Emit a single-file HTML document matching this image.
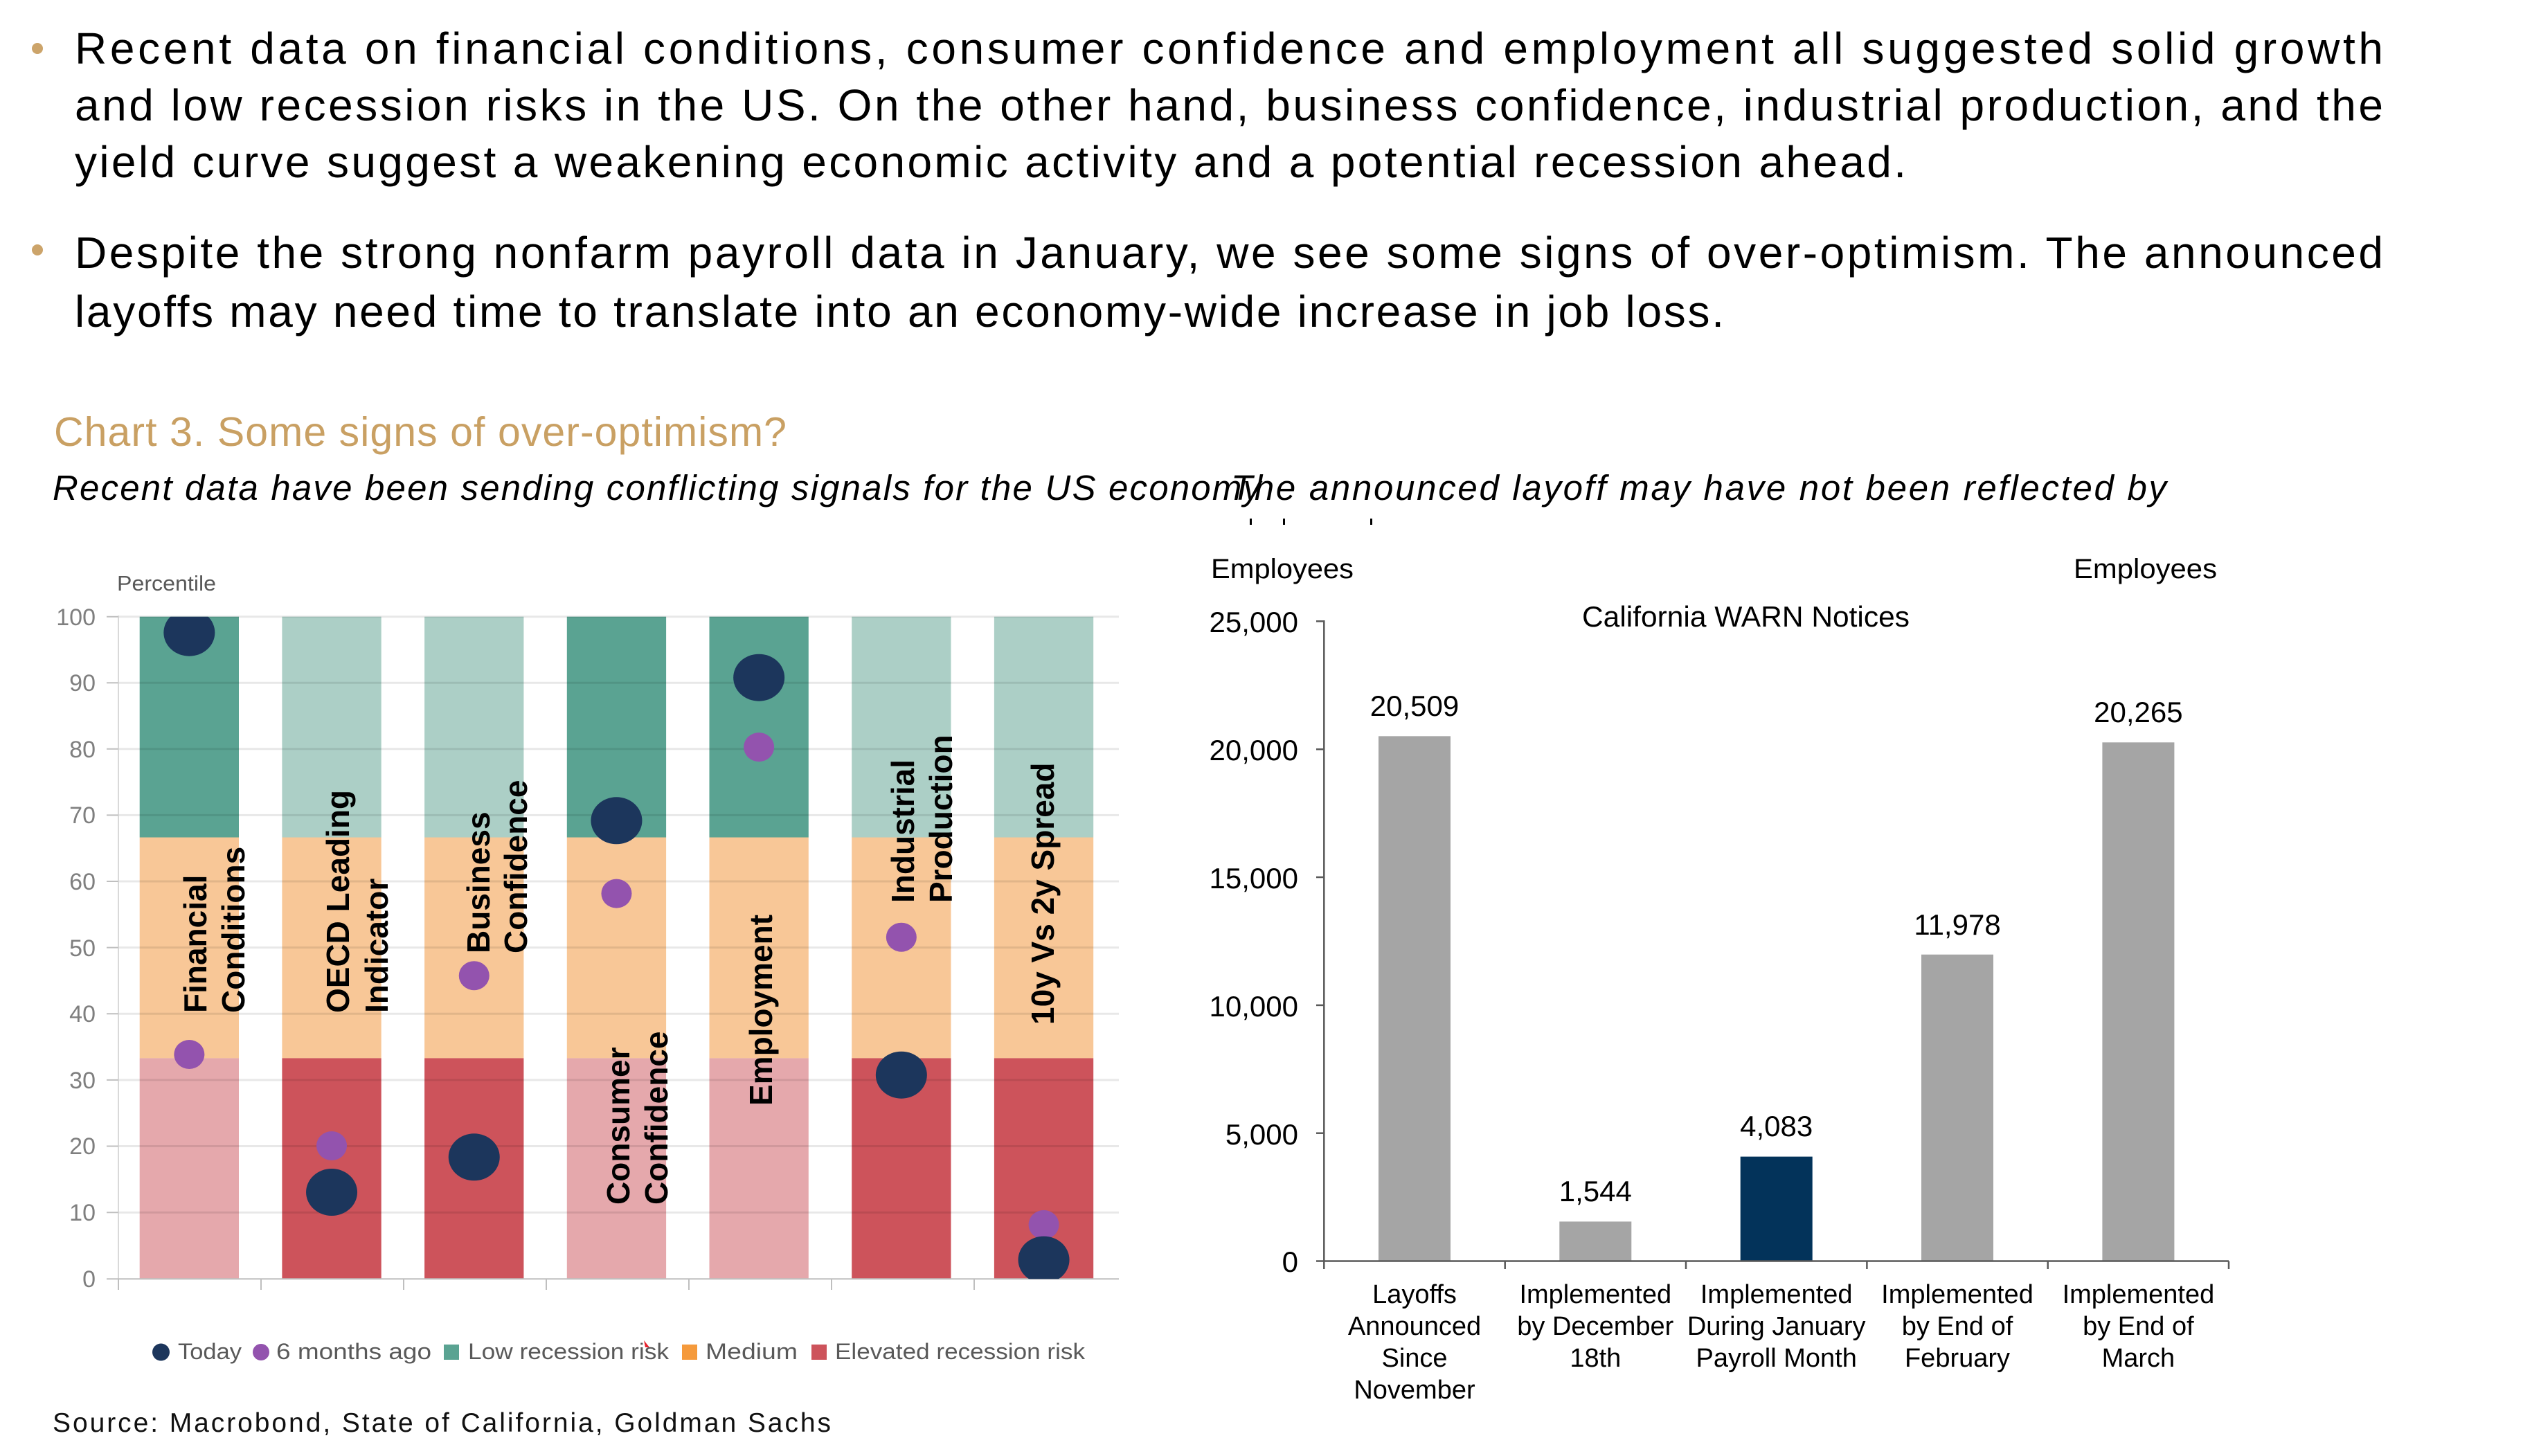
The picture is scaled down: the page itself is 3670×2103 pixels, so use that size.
<!DOCTYPE html>
<html>
<head>
<meta charset="utf-8">
<style>
  html,body{margin:0;padding:0;background:#fff;}
  body{width:3670px;height:2103px;position:relative;overflow:hidden;}
  svg{position:absolute;left:0;top:0;}
</style>
</head>
<body>
<svg width="3670" height="2103" viewBox="0 0 3670 2103" xmlns="http://www.w3.org/2000/svg" font-family="'Liberation Sans', Arial, sans-serif">
  <defs>
    <clipPath id="plotclip"><rect x="171" y="890.7" width="1445" height="956.6"/></clipPath>
  </defs>

  <!-- Bullets -->
  <circle cx="54" cy="70" r="8" fill="#CCA46A"/>
  <circle cx="54" cy="361" r="8" fill="#CCA46A"/>

  <!-- Paragraph lines -->
  <g font-size="64" fill="#000">
    <text x="108" y="92" textLength="3334" lengthAdjust="spacing">Recent data on financial conditions, consumer confidence and employment all suggested solid growth</text>
    <text x="108" y="174" textLength="3334" lengthAdjust="spacing">and low recession risks in the US. On the other hand, business confidence, industrial production, and the</text>
    <text x="108" y="256" textLength="2645" lengthAdjust="spacing">yield curve suggest a weakening economic activity and a potential recession ahead.</text>
    <text x="108" y="387" textLength="3334" lengthAdjust="spacing">Despite the strong nonfarm payroll data in January, we see some signs of over-optimism. The announced</text>
    <text x="108" y="472" textLength="2382" lengthAdjust="spacing">layoffs may need time to translate into an economy-wide increase in job loss.</text>
  </g>

  <!-- Title -->
  <text x="78" y="644" font-size="59" fill="#C9A063" textLength="1058" lengthAdjust="spacing">Chart 3. Some signs of over-optimism?</text>
  <!-- Subtitles -->
  <text x="76" y="722" font-size="51" font-style="italic" fill="#000" textLength="1745" lengthAdjust="spacing">Recent data have been sending conflicting signals for the US economy</text>
  <text x="1778" y="722" font-size="51" font-style="italic" fill="#000" textLength="1351" lengthAdjust="spacing">The announced layoff may have not been reflected by</text>
  <rect x="1805" y="749" width="3" height="9" fill="#000"/>
  <rect x="1853" y="749" width="3" height="9" fill="#000"/>
  <rect x="1979" y="749" width="3" height="9" fill="#000"/>

  <!-- ================= LEFT CHART ================= -->
  <text x="169" y="853" font-size="31" fill="#595959" textLength="143" lengthAdjust="spacingAndGlyphs">Percentile</text>

  <!-- Bars -->
  <g>
    <rect x="201.7" y="890.7" width="143.3" height="318.8" fill="#5AA392"/>
    <rect x="201.7" y="1209.5" width="143.3" height="318.9" fill="#F8C797"/>
    <rect x="201.7" y="1528.4" width="143.3" height="318.9" fill="#E5A8AC"/>
    <rect x="407.4" y="890.7" width="143.3" height="318.8" fill="#ACCFC6"/>
    <rect x="407.4" y="1209.5" width="143.3" height="318.9" fill="#F8C797"/>
    <rect x="407.4" y="1528.4" width="143.3" height="318.9" fill="#CD535B"/>
    <rect x="613.1" y="890.7" width="143.3" height="318.8" fill="#ACCFC6"/>
    <rect x="613.1" y="1209.5" width="143.3" height="318.9" fill="#F8C797"/>
    <rect x="613.1" y="1528.4" width="143.3" height="318.9" fill="#CD535B"/>
    <rect x="818.8" y="890.7" width="143.3" height="318.8" fill="#5AA392"/>
    <rect x="818.8" y="1209.5" width="143.3" height="318.9" fill="#F8C797"/>
    <rect x="818.8" y="1528.4" width="143.3" height="318.9" fill="#E5A8AC"/>
    <rect x="1024.5" y="890.7" width="143.3" height="318.8" fill="#5AA392"/>
    <rect x="1024.5" y="1209.5" width="143.3" height="318.9" fill="#F8C797"/>
    <rect x="1024.5" y="1528.4" width="143.3" height="318.9" fill="#E5A8AC"/>
    <rect x="1230.2" y="890.7" width="143.3" height="318.8" fill="#ACCFC6"/>
    <rect x="1230.2" y="1209.5" width="143.3" height="318.9" fill="#F8C797"/>
    <rect x="1230.2" y="1528.4" width="143.3" height="318.9" fill="#CD535B"/>
    <rect x="1435.9" y="890.7" width="143.3" height="318.8" fill="#ACCFC6"/>
    <rect x="1435.9" y="1209.5" width="143.3" height="318.9" fill="#F8C797"/>
    <rect x="1435.9" y="1528.4" width="143.3" height="318.9" fill="#CD535B"/>
  </g>

  <!-- Gridlines -->
  <g stroke="#000" stroke-opacity="0.09" stroke-width="3">
    <line x1="171" y1="890.7" x2="1616" y2="890.7"/>
    <line x1="171" y1="986.3" x2="1616" y2="986.3"/>
    <line x1="171" y1="1081.8" x2="1616" y2="1081.8"/>
    <line x1="171" y1="1177.4" x2="1616" y2="1177.4"/>
    <line x1="171" y1="1273.0" x2="1616" y2="1273.0"/>
    <line x1="171" y1="1368.6" x2="1616" y2="1368.6"/>
    <line x1="171" y1="1464.3" x2="1616" y2="1464.3"/>
    <line x1="171" y1="1559.9" x2="1616" y2="1559.9"/>
    <line x1="171" y1="1655.5" x2="1616" y2="1655.5"/>
    <line x1="171" y1="1751.2" x2="1616" y2="1751.2"/>
  </g>
  <line x1="171" y1="889" x2="171" y2="1863" stroke="#D9D9D9" stroke-width="2"/>
  <g stroke="#BFBFBF" stroke-width="2">
    <line x1="154" y1="890.7" x2="171" y2="890.7"/>
    <line x1="154" y1="986.3" x2="171" y2="986.3"/>
    <line x1="154" y1="1081.8" x2="171" y2="1081.8"/>
    <line x1="154" y1="1177.4" x2="171" y2="1177.4"/>
    <line x1="154" y1="1273.0" x2="171" y2="1273.0"/>
    <line x1="154" y1="1368.6" x2="171" y2="1368.6"/>
    <line x1="154" y1="1464.3" x2="171" y2="1464.3"/>
    <line x1="154" y1="1559.9" x2="171" y2="1559.9"/>
    <line x1="154" y1="1655.5" x2="171" y2="1655.5"/>
    <line x1="154" y1="1751.2" x2="171" y2="1751.2"/>
    <line x1="154" y1="1847.3" x2="171" y2="1847.3"/>
    <line x1="171" y1="1847.3" x2="1616" y2="1847.3"/>
    <line x1="171" y1="1847" x2="171" y2="1863"/>
    <line x1="377" y1="1847" x2="377" y2="1863"/>
    <line x1="583" y1="1847" x2="583" y2="1863"/>
    <line x1="789" y1="1847" x2="789" y2="1863"/>
    <line x1="995" y1="1847" x2="995" y2="1863"/>
    <line x1="1201" y1="1847" x2="1201" y2="1863"/>
    <line x1="1407" y1="1847" x2="1407" y2="1863"/>
  </g>
  <g font-size="34" fill="#7F7F7F" text-anchor="end">
    <text x="138" y="903">100</text>
    <text x="138" y="998">90</text>
    <text x="138" y="1094">80</text>
    <text x="138" y="1189">70</text>
    <text x="138" y="1285">60</text>
    <text x="138" y="1381">50</text>
    <text x="138" y="1476">40</text>
    <text x="138" y="1572">30</text>
    <text x="138" y="1667">20</text>
    <text x="138" y="1763">10</text>
    <text x="138" y="1859">0</text>
  </g>

  <!-- Dots -->
  <g clip-path="url(#plotclip)">
    <ellipse cx="273.35" cy="1523.0" rx="22" ry="21" fill="#9353AE"/>
    <ellipse cx="479.05" cy="1655.0" rx="22" ry="21" fill="#9353AE"/>
    <ellipse cx="684.75" cy="1409.2" rx="22" ry="21" fill="#9353AE"/>
    <ellipse cx="890.45" cy="1290.6" rx="22" ry="21" fill="#9353AE"/>
    <ellipse cx="1096.15" cy="1079.1" rx="22" ry="21" fill="#9353AE"/>
    <ellipse cx="1301.85" cy="1353.7" rx="22" ry="21" fill="#9353AE"/>
    <ellipse cx="1507.55" cy="1768.9" rx="22" ry="21" fill="#9353AE"/>

    <ellipse cx="273.35" cy="913.7" rx="37" ry="34" fill="#1C365C"/>
    <ellipse cx="479.05" cy="1722.0" rx="37" ry="34" fill="#1C365C"/>
    <ellipse cx="684.75" cy="1671.3" rx="37" ry="34" fill="#1C365C"/>
    <ellipse cx="890.45" cy="1185.3" rx="37" ry="34" fill="#1C365C"/>
    <ellipse cx="1096.15" cy="978.7" rx="37" ry="34" fill="#1C365C"/>
    <ellipse cx="1301.85" cy="1552.7" rx="37" ry="34" fill="#1C365C"/>
    <ellipse cx="1507.55" cy="1819.6" rx="37" ry="34" fill="#1C365C"/>
  </g>

  <!-- Vertical category labels -->
  <g font-size="46" font-weight="bold" fill="#000">
    <text transform="translate(298,1463) rotate(-90)">Financial</text>
    <text transform="translate(353,1463) rotate(-90)">Conditions</text>
    <text transform="translate(504,1463) rotate(-90)">OECD Leading</text>
    <text transform="translate(560,1463) rotate(-90)">Indicator</text>
    <text transform="translate(707,1377) rotate(-90)">Business</text>
    <text transform="translate(761,1377) rotate(-90)">Confidence</text>
    <text transform="translate(909,1740) rotate(-90)">Consumer</text>
    <text transform="translate(964,1740) rotate(-90)">Confidence</text>
    <text transform="translate(1115,1597) rotate(-90)">Employment</text>
    <text transform="translate(1320,1304) rotate(-90)">Industrial</text>
    <text transform="translate(1375,1304) rotate(-90)">Production</text>
    <text transform="translate(1522,1480) rotate(-90)">10y Vs 2y Spread</text>
  </g>

  <!-- Legend -->
  <circle cx="232.5" cy="1953" r="12.5" fill="#1C365C"/>
  <text x="257" y="1963" font-size="32" fill="#595959" textLength="92" lengthAdjust="spacingAndGlyphs">Today</text>
  <circle cx="377" cy="1953" r="12" fill="#9353AE"/>
  <text x="399" y="1963" font-size="32" fill="#595959" textLength="224" lengthAdjust="spacingAndGlyphs">6 months ago</text>
  <rect x="641" y="1942" width="22" height="22" fill="#5AA392"/>
  <text x="676" y="1963" font-size="32" fill="#595959" textLength="290" lengthAdjust="spacingAndGlyphs">Low recession risk</text>
  <polygon points="930,1936 938,1946 932,1946" fill="#E8202A"/>
  <rect x="985" y="1942" width="22" height="22" fill="#F59A3C"/>
  <text x="1019" y="1963" font-size="32" fill="#595959" textLength="133" lengthAdjust="spacingAndGlyphs">Medium</text>
  <rect x="1172" y="1942" width="22" height="22" fill="#CD535B"/>
  <text x="1206" y="1963" font-size="32" fill="#595959" textLength="361" lengthAdjust="spacingAndGlyphs">Elevated recession risk</text>

  <!-- Source -->
  <text x="76" y="2068" font-size="39" fill="#111" textLength="1124" lengthAdjust="spacing">Source: Macrobond, State of California, Goldman Sachs</text>

  <!-- ================= RIGHT CHART ================= -->
  <text x="1749" y="835" font-size="40" fill="#000" textLength="206" lengthAdjust="spacingAndGlyphs">Employees</text>
  <text x="2995" y="835" font-size="40" fill="#000" textLength="207" lengthAdjust="spacingAndGlyphs">Employees</text>
  <text x="2285" y="905" font-size="42" fill="#000" textLength="473" lengthAdjust="spacingAndGlyphs">California WARN Notices</text>

  <rect x="1991" y="1063.3" width="104" height="758.2" fill="#A5A5A5"/>
  <rect x="2252.3" y="1764.4" width="104" height="57.1" fill="#A5A5A5"/>
  <rect x="2513.7" y="1670.6" width="104" height="150.9" fill="#03335A"/>
  <rect x="2775" y="1378.7" width="104" height="442.8" fill="#A5A5A5"/>
  <rect x="3036.4" y="1072.3" width="104" height="749.2" fill="#A5A5A5"/>

  <g stroke="#595959" stroke-width="2.5" fill="none">
    <line x1="1912.3" y1="896" x2="1912.3" y2="1833"/>
    <line x1="1901" y1="897.3" x2="1912.3" y2="897.3"/>
    <line x1="1901" y1="1082.2" x2="1912.3" y2="1082.2"/>
    <line x1="1901" y1="1267.0" x2="1912.3" y2="1267.0"/>
    <line x1="1901" y1="1451.9" x2="1912.3" y2="1451.9"/>
    <line x1="1901" y1="1636.7" x2="1912.3" y2="1636.7"/>
    <line x1="1901" y1="1821.5" x2="3219" y2="1821.5"/>
    <line x1="2173.7" y1="1821.5" x2="2173.7" y2="1833"/>
    <line x1="2435" y1="1821.5" x2="2435" y2="1833"/>
    <line x1="2696.4" y1="1821.5" x2="2696.4" y2="1833"/>
    <line x1="2957.7" y1="1821.5" x2="2957.7" y2="1833"/>
    <line x1="3219" y1="1821.5" x2="3219" y2="1833"/>
  </g>

  <g font-size="42" fill="#000" text-anchor="end">
    <text x="1875" y="913">25,000</text>
    <text x="1875" y="1098">20,000</text>
    <text x="1875" y="1283">15,000</text>
    <text x="1875" y="1468">10,000</text>
    <text x="1875" y="1653">5,000</text>
    <text x="1875" y="1837">0</text>
  </g>

  <g font-size="42" fill="#000" text-anchor="middle">
    <text x="2043" y="1034">20,509</text>
    <text x="2304.3" y="1735">1,544</text>
    <text x="2565.7" y="1641">4,083</text>
    <text x="2827" y="1350">11,978</text>
    <text x="3088.4" y="1043">20,265</text>
  </g>

  <g font-size="38" fill="#000" text-anchor="middle">
    <text x="2043" y="1882">Layoffs</text>
    <text x="2043" y="1928">Announced</text>
    <text x="2043" y="1974">Since</text>
    <text x="2043" y="2020">November</text>

    <text x="2304.3" y="1882">Implemented</text>
    <text x="2304.3" y="1928">by December</text>
    <text x="2304.3" y="1974">18th</text>

    <text x="2565.7" y="1882">Implemented</text>
    <text x="2565.7" y="1928">During January</text>
    <text x="2565.7" y="1974">Payroll Month</text>

    <text x="2827" y="1882">Implemented</text>
    <text x="2827" y="1928">by End of</text>
    <text x="2827" y="1974">February</text>

    <text x="3088.4" y="1882">Implemented</text>
    <text x="3088.4" y="1928">by End of</text>
    <text x="3088.4" y="1974">March</text>
  </g>
</svg>
</body>
</html>
